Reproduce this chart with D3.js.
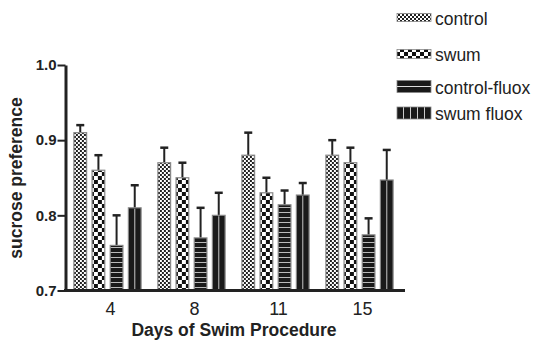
<!DOCTYPE html>
<html>
<head>
<meta charset="utf-8">
<script src="https://cdn.jsdelivr.net/npm/d3@7"></script>
<style>
  body { margin: 0; background: #fff; }
  text { font-family: "Liberation Sans", Arial, sans-serif; fill: #222; }
</style>
</head>
<body>
<div id="chart"></div>
<script>
// data
var days = ["4", "8", "11", "15"];
var series = ["control", "swum", "control-fluox", "swum fluox"];
var means = {
  "control":       [0.910, 0.870, 0.880, 0.880],
  "swum":          [0.860, 0.850, 0.830, 0.870],
  "control-fluox": [0.760, 0.770, 0.814, 0.774],
  "swum fluox":    [0.810, 0.800, 0.827, 0.847]
};
var errTop = {
  "control":       [0.920, 0.890, 0.910, 0.900],
  "swum":          [0.880, 0.870, 0.850, 0.890],
  "control-fluox": [0.800, 0.810, 0.833, 0.796],
  "swum fluox":    [0.840, 0.830, 0.843, 0.887]
};
var yTicks = [0.7, 0.8, 0.9, 1.0];

var svgWidth = 535, svgHeight = 347;
var svg = d3.select("#chart").append("svg")
  .attr("width", svgWidth)
  .attr("height", svgHeight);

// patterns
var defs = svg.append("defs");

var p1 = defs.append("pattern").attr("id", "pat-control")
  .attr("patternUnits", "userSpaceOnUse").attr("width", 4).attr("height", 4);
p1.append("rect").attr("width", 4).attr("height", 4).attr("fill", "#fff");
p1.append("rect").attr("width", 2).attr("height", 2).attr("fill", "#222");
p1.append("rect").attr("x", 2).attr("y", 2).attr("width", 2).attr("height", 2).attr("fill", "#222");

var p2 = defs.append("pattern").attr("id", "pat-swum")
  .attr("patternUnits", "userSpaceOnUse").attr("width", 8).attr("height", 8);
p2.append("rect").attr("width", 8).attr("height", 8).attr("fill", "#fff");
p2.append("rect").attr("width", 4).attr("height", 4).attr("fill", "#111");
p2.append("rect").attr("x", 4).attr("y", 4).attr("width", 4).attr("height", 4).attr("fill", "#111");

var p3 = defs.append("pattern").attr("id", "pat-cfluox")
  .attr("patternUnits", "userSpaceOnUse").attr("width", 4).attr("height", 5);
p3.append("rect").attr("width", 4).attr("height", 5).attr("fill", "#1a1a1a");
p3.append("rect").attr("y", 2).attr("width", 4).attr("height", 1).attr("fill", "#bbb");

var p4 = defs.append("pattern").attr("id", "pat-sfluox-legend")
  .attr("patternUnits", "userSpaceOnUse").attr("width", 7).attr("height", 4)
  .attr("x", 397);
p4.append("rect").attr("width", 7).attr("height", 4).attr("fill", "#1a1a1a");
p4.append("rect").attr("x", 6).attr("width", 1.2).attr("height", 4).attr("fill", "#ccc");

var fills = {
  "control": "url(#pat-control)",
  "swum": "url(#pat-swum)",
  "control-fluox": "url(#pat-cfluox)",
  "swum fluox": "#1a1a1a"
};
var legendFills = {
  "control": "url(#pat-control)",
  "swum": "url(#pat-swum)",
  "control-fluox": "#1a1a1a",
  "swum fluox": "url(#pat-sfluox-legend)"
};

// scales
var x0 = d3.scaleBand().domain(days).range([65.5, 401.5])
  .paddingInner(0.2).paddingOuter(0.1);
var x1 = d3.scaleBand().domain(series).range([0, x0.bandwidth()])
  .paddingInner(0.3);
var y = d3.scaleLinear().domain([0.7, 1.0]).range([290.5, 65]);

// bars
var groups = svg.append("g").selectAll("g")
  .data(days)
  .enter().append("g")
  .attr("transform", d => `translate(${x0(d)},0)`);

series.forEach(function(s) {
  // error bars (upper only)
  groups.append("line")
    .attr("x1", x1(s) + x1.bandwidth() / 2)
    .attr("x2", x1(s) + x1.bandwidth() / 2)
    .attr("y1", (d, i) => y(means[s][i]))
    .attr("y2", (d, i) => y(errTop[s][i]))
    .attr("stroke", "#222").attr("stroke-width", 2);
  groups.append("line")
    .attr("x1", x1(s) + x1.bandwidth() / 2 - 4)
    .attr("x2", x1(s) + x1.bandwidth() / 2 + 4)
    .attr("y1", (d, i) => y(errTop[s][i]))
    .attr("y2", (d, i) => y(errTop[s][i]))
    .attr("stroke", "#222").attr("stroke-width", 2.5);

  groups.append("rect")
    .attr("x", x1(s))
    .attr("y", (d, i) => y(means[s][i]))
    .attr("width", x1.bandwidth())
    .attr("height", (d, i) => y(0.7) - y(means[s][i]))
    .attr("fill", fills[s])
    .attr("stroke", "#888")
    .attr("stroke-width", 1.2);

  if (s == "swum fluox") {
    groups.append("line")
      .attr("x1", x1(s) + x1.bandwidth() / 2)
      .attr("x2", x1(s) + x1.bandwidth() / 2)
      .attr("y1", (d, i) => y(means[s][i]) + 1)
      .attr("y2", y(0.7))
      .attr("stroke", "#aaa").attr("stroke-width", 1.2);
  }
});

// y axis
var yAxis = d3.axisLeft(y).tickValues(yTicks).tickFormat(d3.format(".1f"))
  .tickSize(8).tickSizeOuter(0);
var yg = svg.append("g").attr("transform", "translate(65.5,0)").call(yAxis);
yg.select(".domain").attr("stroke", "#222").attr("stroke-width", 3);
yg.selectAll(".tick line").attr("stroke", "#222").attr("stroke-width", 2);
yg.selectAll(".tick text")
  .attr("x", -9)
  .style("font-size", "15px").style("font-weight", "bold")
  .attr("fill", "#333");

// x axis
var xAxis = d3.axisBottom(x0).tickSize(0).tickSizeOuter(0);
var xg = svg.append("g").attr("transform", "translate(0,290.5)").call(xAxis);
xg.select(".domain").attr("d", "M64,0H405").attr("stroke", "#222").attr("stroke-width", 3);
xg.selectAll(".tick text")
  .attr("dy", 0).attr("y", 24).attr("dx", 3)
  .style("font-size", "18px")
  .attr("fill", "#222");

// axis titles
svg.append("text")
  .attr("x", 234).attr("y", 336)
  .attr("text-anchor", "middle")
  .style("font-size", "17.5px").style("font-weight", "bold")
  .text("Days of Swim Procedure");

svg.append("text")
  .attr("transform", "translate(22,178) rotate(-90)")
  .attr("text-anchor", "middle")
  .style("font-size", "17.5px").style("font-weight", "bold")
  .text("sucrose preference");

// legend
var swatchY = [13.5, 49.5, 80.5, 107];
var swatchH = [8, 9, 12, 12];
var labelY = [25, 60.5, 93.5, 120];
var legend = svg.append("g").selectAll("g")
  .data(series)
  .enter().append("g");
legend.append("rect")
  .attr("x", 397).attr("y", (d, i) => swatchY[i])
  .attr("width", 34).attr("height", (d, i) => swatchH[i])
  .attr("fill", d => legendFills[d])
  .attr("stroke", "#888").attr("stroke-width", 0.8);
legend.filter(d => d == "control-fluox").append("line")
  .attr("x1", 397).attr("x2", 431)
  .attr("y1", 86.5).attr("y2", 86.5)
  .attr("stroke", "#ddd").attr("stroke-width", 1.2);
legend.append("text")
  .attr("x", 435).attr("y", (d, i) => labelY[i])
  .style("font-size", "17.5px")
  .text(d => d);
</script>
</body>
</html>
